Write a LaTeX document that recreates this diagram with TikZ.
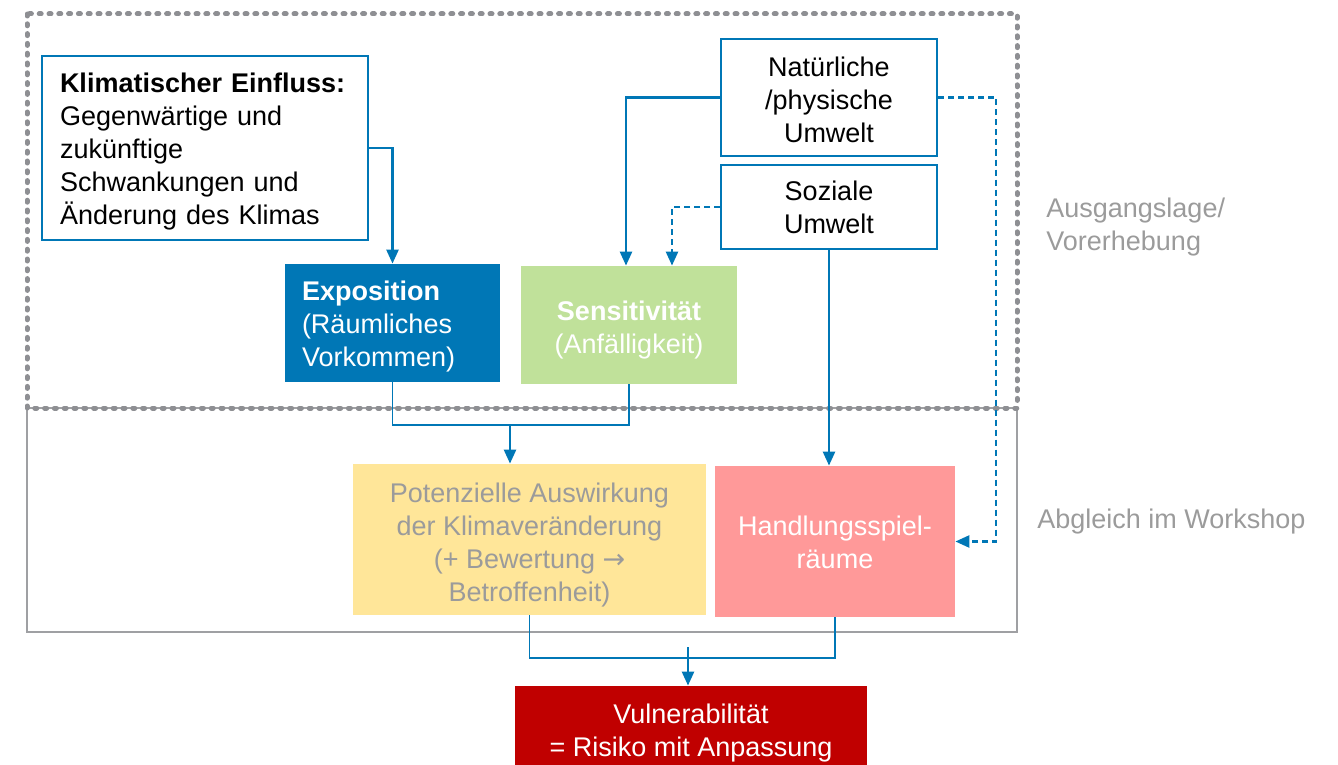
\documentclass[tikz,border=0pt]{standalone}
\usepackage{fontspec}
\setmainfont{Liberation Sans}
\newfontfamily\arrowfont{DejaVu Sans}
\usepackage{tikz}
\usetikzlibrary{arrows.meta,positioning}
\usepackage{xcolor}
\definecolor{flowblue}{RGB}{0,119,182}
\definecolor{sensgreen}{RGB}{192,225,154}
\definecolor{potyellow}{RGB}{255,230,153}
\definecolor{handred}{RGB}{255,153,153}
\definecolor{vulnred}{RGB}{192,0,0}
\definecolor{framegray}{RGB}{142,143,147}
\definecolor{labelgray}{RGB}{155,155,155}
% extra room above the first line of a centred box
\newcommand{\headroom}[1]{\rule{0pt}{#1}}

\begin{document}
\begin{tikzpicture}[x=0.5pt,y=-0.5pt,
    every node/.style={font=\fontsize{13.5pt}{16.5pt}\selectfont,
        execute at begin node={\rule{0pt}{13.5pt}}},
    outline/.style={draw=flowblue,line width=1pt,fill=white,inner sep=0pt},
    solidbox/.style={inner sep=0pt,text=white},
    flow/.style={flowblue,line width=1.25pt,-{Triangle[width=6pt,length=7pt]}},
    bracket/.style={flowblue,line width=0.8pt},
    dashflow/.style={flow,dash pattern=on 3pt off 2pt}]
\useasboundingbox (0,0) rectangle (1338,765);

% Regions
\draw[framegray!85,line width=1.2pt] (27,408) rectangle (1017,632);
\draw[framegray,line width=2.5pt,dash pattern=on 1pt off 3.9pt,line cap=round] (27,14) rectangle (1017,408);
\node[labelgray,anchor=west,align=left,inner sep=0pt] (ausgang) at (1046,223.5) {\headroom{12.8pt}Ausgangslage/\\Vorerhebung};
\node[labelgray,anchor=west,inner sep=0pt] (abgleich) at (1037,518) {Abgleich im Workshop};

% Input boxes
\node[outline,align=left,text width=145pt,inner xsep=9pt,minimum height=92pt] (klima) at (205,148)
    {\textbf{Klimatischer Einfluss:}\\Gegenwärtige und\\zukünftige\\Schwankungen und\\Änderung des Klimas};
\node[outline,align=center,minimum width=108pt,minimum height=58.5pt] (natur) at (829,97.5)
    {\headroom{11.8pt}Natürliche\\/physische\\Umwelt};
\node[outline,align=center,minimum width=108pt,minimum height=42pt] (sozial) at (829,207)
    {Soziale\\Umwelt};

% Exposition and sensitivity
\node[solidbox,fill=flowblue,align=left,text width=90.5pt,inner xsep=8.5pt,minimum height=59pt] (expo) at (392.5,323)
    {\textbf{Exposition}\\(Räumliches\\Vorkommen)};
\node[solidbox,fill=sensgreen,align=center,minimum width=108pt,minimum height=59pt] (sens) at (629,325)
    {\headroom{14.8pt}\textbf{Sensitivität}\\(Anfälligkeit)};

% Impact and scope for action
\node[solidbox,fill=potyellow,text=labelgray,align=center,minimum width=176.5pt,minimum height=75.5pt] (pot) at (529.5,539.5)
    {\headroom{15.5pt}Potenzielle Auswirkung\\der Klimaveränderung\\(+ Bewertung {\arrowfont →}\\Betroffenheit)};
\node[solidbox,fill=handred,align=center,minimum width=120pt,minimum height=75.5pt] (hand) at (835,541.5)
    {\headroom{10.8pt}Handlungsspiel-\\räume};

% Result
\node[solidbox,fill=vulnred,align=center,minimum width=176pt,minimum height=43.5pt] (vuln) at (691,729.5)
    {\headroom{12.8pt}Vulnerabilität\\= Risiko mit Anpassung};

% Connectors
\draw[flow] (klima.east) -| (expo.north);
\draw[flow] (natur.west) -| ([xshift=-1.5pt]sens.north);
\draw[dashflow] (sozial.west) -| ([xshift=21.5pt]sens.north);
\draw[flow] (sozial.south) -- (sozial.south |- hand.north);
\draw[dashflow] (natur.east) -- ++(58,0) |- (hand.east);

\coordinate (join1) at (510,425);
\draw[bracket] (expo.south) -- (expo.south |- join1) -- (sens.south |- join1) -- (sens.south);
\draw[flow] (join1) -- (join1 |- pot.north);

\coordinate (join2) at (688,658);
\draw[bracket] (pot.south) -- (pot.south |- join2) -- (hand.south |- join2) -- (hand.south);
\draw[flow] ([yshift=5.5pt]join2) -- (join2 |- vuln.north);

\end{tikzpicture}
\end{document}
